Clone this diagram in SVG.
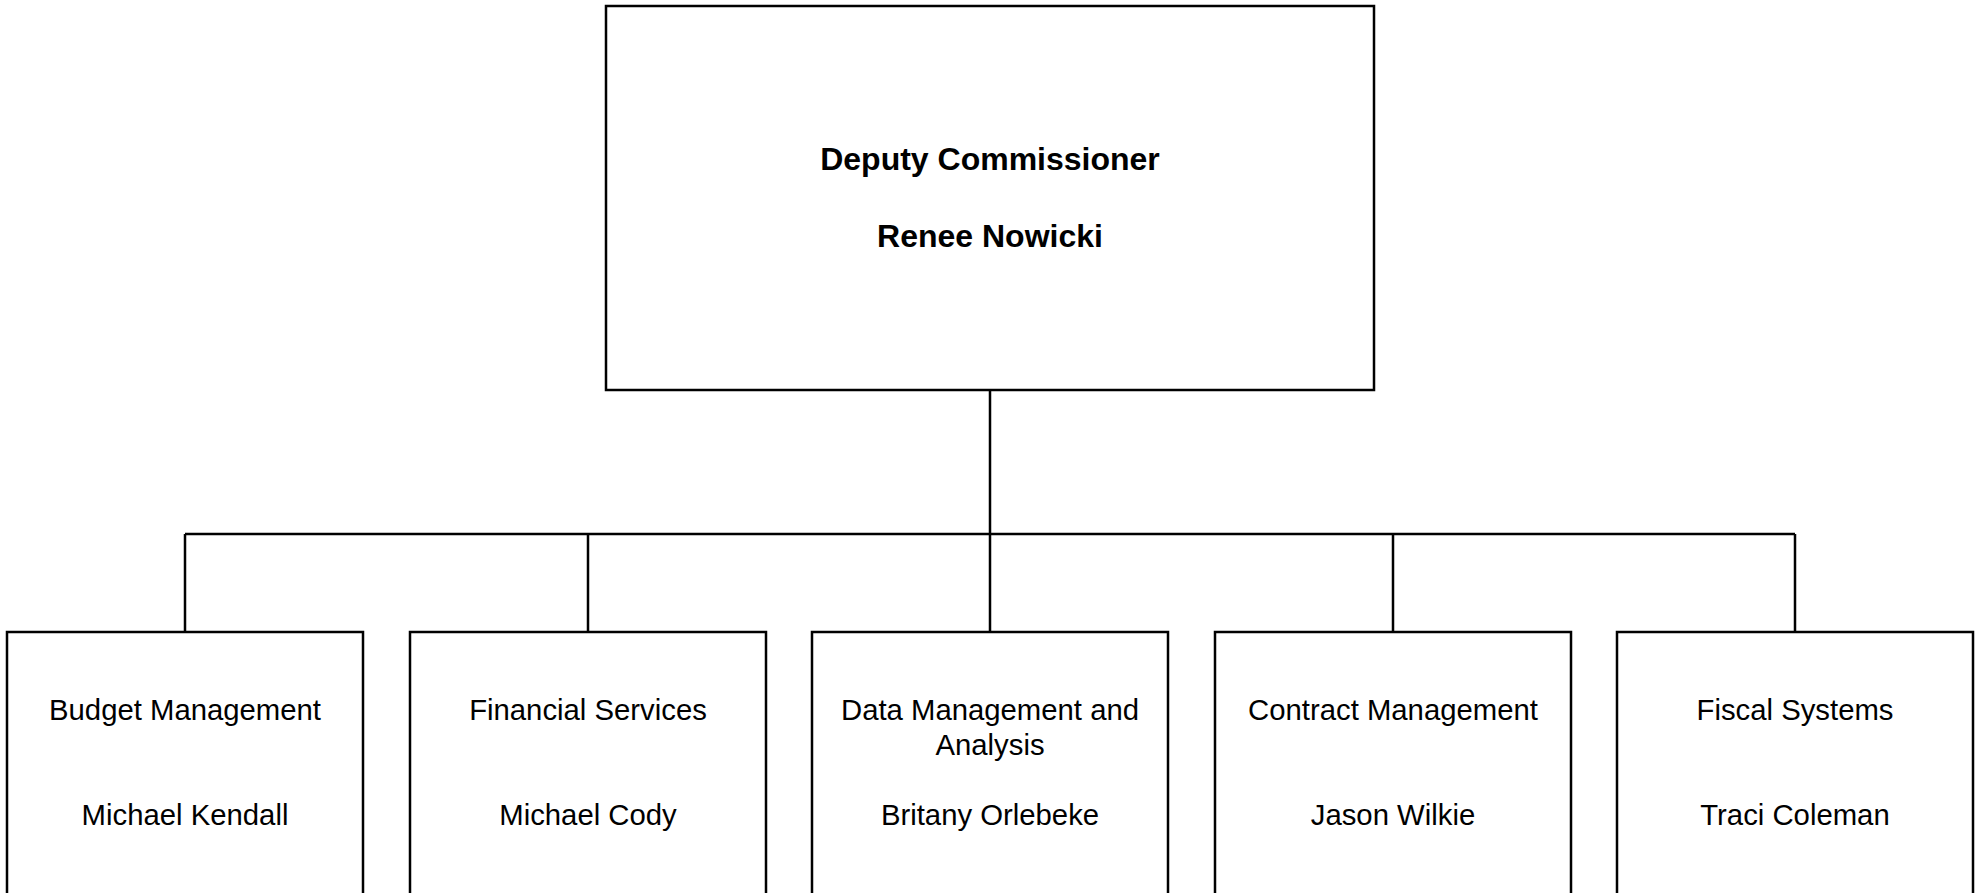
<svg xmlns="http://www.w3.org/2000/svg" width="1984" height="893" viewBox="0 0 1984 893">
<style>
.box{fill:#fff;stroke:#000;stroke-width:2.5}
.conn{fill:none;stroke:#000;stroke-width:2.5}
.t{font-family:"Liberation Sans",Arial,sans-serif;font-size:29.3px;fill:#000;text-anchor:middle}
.b{font-family:"Liberation Sans",Arial,sans-serif;font-size:32px;font-weight:bold;fill:#000;text-anchor:middle}
</style>
<rect width="1984" height="893" fill="#fff"/>
<g id="connectors">
<path class="conn" d="M990 390V534M185 534H1795M185 534V632M588 534V632M990 534V632M1393 534V632M1795 534V632"/>
</g>
<g id="deputy-commissioner">
<rect class="box" x="606" y="6" width="768" height="384"/>
<text class="b" x="990" y="170">Deputy Commissioner</text>
<text class="b" x="990" y="247">Renee Nowicki</text>
</g>
<g id="budget-management">
<rect class="box" x="7" y="632" width="356" height="330"/>
<text class="t" x="185" y="719.5">Budget Management</text>
<text class="t" x="185" y="825">Michael Kendall</text>
</g>
<g id="financial-services">
<rect class="box" x="410" y="632" width="356" height="330"/>
<text class="t" x="588" y="719.5">Financial Services</text>
<text class="t" x="588" y="825">Michael Cody</text>
</g>
<g id="data-management">
<rect class="box" x="812" y="632" width="356" height="330"/>
<text class="t" x="990" y="719.5">Data Management and</text>
<text class="t" x="990" y="754.5">Analysis</text>
<text class="t" x="990" y="825">Britany Orlebeke</text>
</g>
<g id="contract-management">
<rect class="box" x="1215" y="632" width="356" height="330"/>
<text class="t" x="1393" y="719.5">Contract Management</text>
<text class="t" x="1393" y="825">Jason Wilkie</text>
</g>
<g id="fiscal-systems">
<rect class="box" x="1617" y="632" width="356" height="330"/>
<text class="t" x="1795" y="719.5">Fiscal Systems</text>
<text class="t" x="1795" y="825">Traci Coleman</text>
</g>
</svg>
